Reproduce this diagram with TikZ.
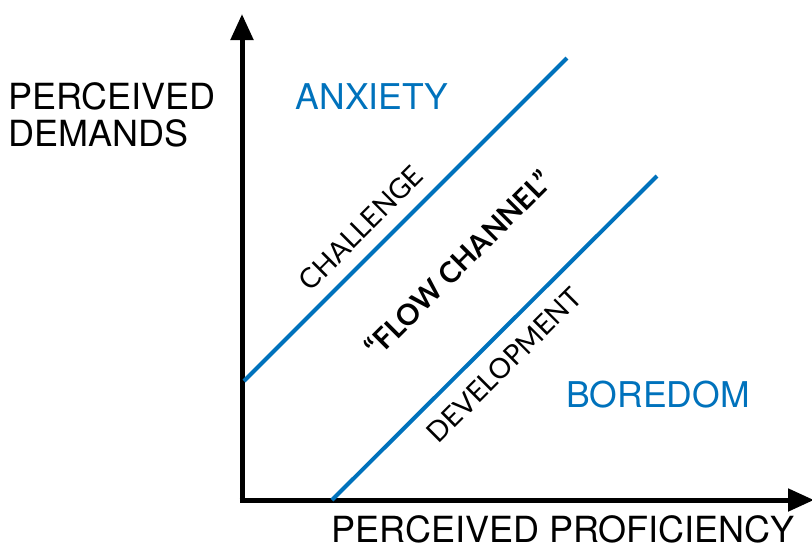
\documentclass[tikz,border=0pt]{standalone}
\usepackage{fontspec}
\setmainfont{TeX Gyre Heros}
\newfontfamily\channelfont{Lato}
\usetikzlibrary{arrows.meta,positioning}
\definecolor{flowblue}{RGB}{0,114,188}

\tikzset{
  axis/.style={line width=5pt, -{Triangle[length=26pt,width=22pt]}},
  bound/.style={flowblue, line width=4pt},
  zone/.style={flowblue, font=\fontsize{35.5}{36}\selectfont},
  axislabel/.style={font=\fontsize{36}{37}\selectfont, align=left, inner sep=0pt},
  along/.style={rotate=45, inner sep=0pt, font=\channelfont\fontsize{28}{30}\selectfont}
}

\begin{document}
\begin{tikzpicture}[x=1pt,y=-1pt]
\useasboundingbox (0,0) rectangle (812,550);

% axes
\coordinate (origin) at (242,500);
\coordinate (ytop) at (242,14);
\coordinate (xend) at (814,500);
\draw[axis] ([yshift=-2.5pt]origin) -- (ytop);
\draw[axis] ([xshift=-2.5pt]origin) -- (xend);

% channel boundaries
\coordinate (c1) at (244,381);
\coordinate (c2) at (567,58);
\coordinate (d1) at (332,500);
\coordinate (d2) at (657,176);
\draw[bound] (c1) -- (c2);
\draw[bound] (d1) -- (d2);

% labels
\node[axislabel, anchor=west] (demands) at (8,115) {PERCEIVED\\DEMANDS};
\node[axislabel] (proficiency) at (563,529) {PERCEIVED PROFICIENCY};
\node[zone] (anxiety) at (372,97) {ANXIETY};
\node[zone] (boredom) at (658,395) {BOREDOM};

\node[along] (challenge) at (361,228) {CHALLENGE};
\node[along, font=\channelfont\bfseries\fontsize{29}{30}\selectfont] (flow) at (458,264) {“FLOW CHANNEL”};
\node[along] (development) at (504,365) {DEVELOPMENT};
\end{tikzpicture}
\end{document}
